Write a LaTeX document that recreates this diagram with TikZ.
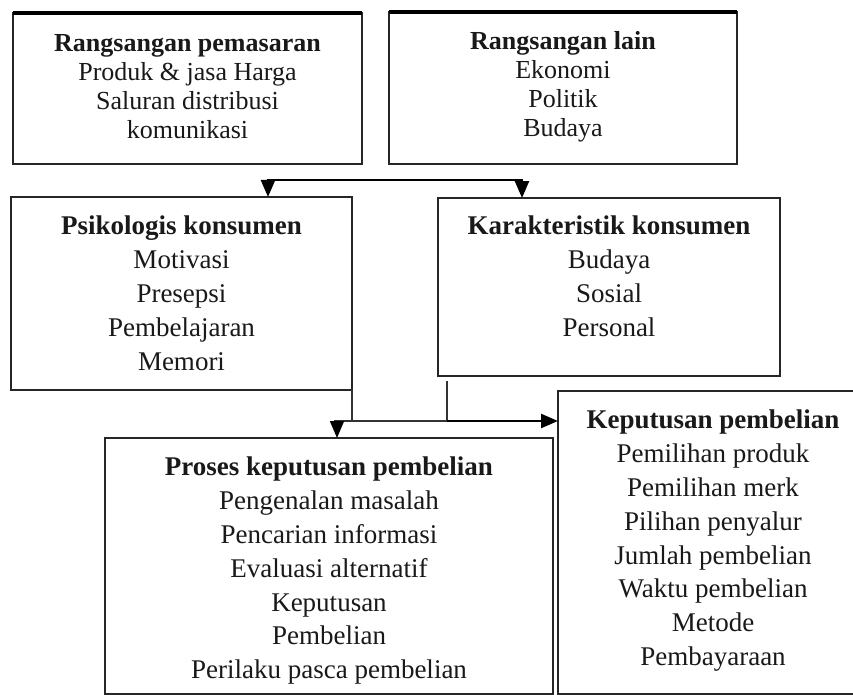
\documentclass[tikz,border=0pt]{standalone}
\usepackage{fontspec}
\setmainfont{Liberation Serif}
\usetikzlibrary{arrows.meta}
\begin{document}
\begin{tikzpicture}[x=1pt,y=-1pt,
  box/.style={draw=black!85, line width=2.2pt, rectangle, inner sep=0pt, outer sep=0pt, anchor=north west},
  big/.style={font=\fontsize{27}{33.8}\selectfont, align=center, anchor=north, inner sep=0pt, text=black!90},
  small/.style={font=\fontsize{26}{29}\selectfont, align=center, anchor=north, inner sep=0pt, text=black!90},
  conn/.style={draw=black, line width=2.4pt},
  thin/.style={draw=black!80, line width=1.4pt},
  arr/.style={conn, -{Triangle[length=17pt,width=14pt]}}]
\fill[white] (0,0) rectangle (853,695);
\useasboundingbox (0,0) rectangle (853,695);

% boxes
\node[box, minimum width=349pt, minimum height=151pt] (b1) at (13,13) {};
\node[box, minimum width=348pt, minimum height=152pt] (b2) at (389,12) {};
\node[box, minimum width=341pt, minimum height=193pt] (b3) at (11,197) {};
\node[box, minimum width=342pt, minimum height=178pt] (b4) at (438,198) {};
\node[box, minimum width=448pt, minimum height=256pt] (b5) at (105,438) {};
\node[box, minimum width=310pt, minimum height=303pt] (b6) at (558,391) {};
\draw[line width=3.4pt] (b1.north west) -- (b1.north east);
\draw[line width=3.2pt] (b2.north west) -- (b2.north east);

% texts
\node[small] (t1) at ([yshift=-18pt]b1.north) {\strut\textbf{Rangsangan pemasaran}\\Produk \& jasa Harga\\Saluran distribusi\\komunikasi};
\node[small] (t2) at ([yshift=-17pt]b2.north) {\strut\textbf{Rangsangan lain}\\Ekonomi\\Politik\\Budaya};
\node[big] (t3) at ([yshift=-14pt]b3.north) {\strut\textbf{Psikologis konsumen}\\Motivasi\\Presepsi\\Pembelajaran\\Memori};
\node[big] (t4) at ([yshift=-13pt]b4.north) {\strut\textbf{Karakteristik konsumen}\\Budaya\\Sosial\\Personal};
\node[big] (t5) at ([yshift=-14pt]b5.north) {\strut\textbf{Proses keputusan pembelian}\\Pengenalan masalah\\Pencarian informasi\\Evaluasi alternatif\\Keputusan\\Pembelian\\Perilaku pasca pembelian};
\node[big] (t6) at ([yshift=-14pt]b6.north) {\strut\textbf{Keputusan pembelian}\\Pemilihan produk\\Pemilihan merk\\Pilihan penyalur\\Jumlah pembelian\\Waktu pembelian\\Metode\\Pembayaraan};

% upper connector
\coordinate (j1) at (268,180);
\coordinate (j2) at (522,180);
\draw[conn] ([xshift=-1.2pt]j1) -- ([xshift=1.2pt]j2);
\draw[arr] (j1) -- (j1 |- b3.north);
\draw[arr] (j2) -- (j2 |- b4.north);

% lower connector
\coordinate (c1) at (352,421);
\coordinate (c0) at (337,421);
\coordinate (c2) at (447,421);
\coordinate (c3) at (447,381);
\draw[thin] (b3.south east) -- (c1);
\draw[thin] (c3) -- (c2);
\draw[thin] (334,421) -- (c2);
\draw[arr] (c2) -- (b6.west |- c2);
\draw[arr, line width=1.6pt] (c0) -- (c0 |- b5.north);
\end{tikzpicture}
\end{document}
